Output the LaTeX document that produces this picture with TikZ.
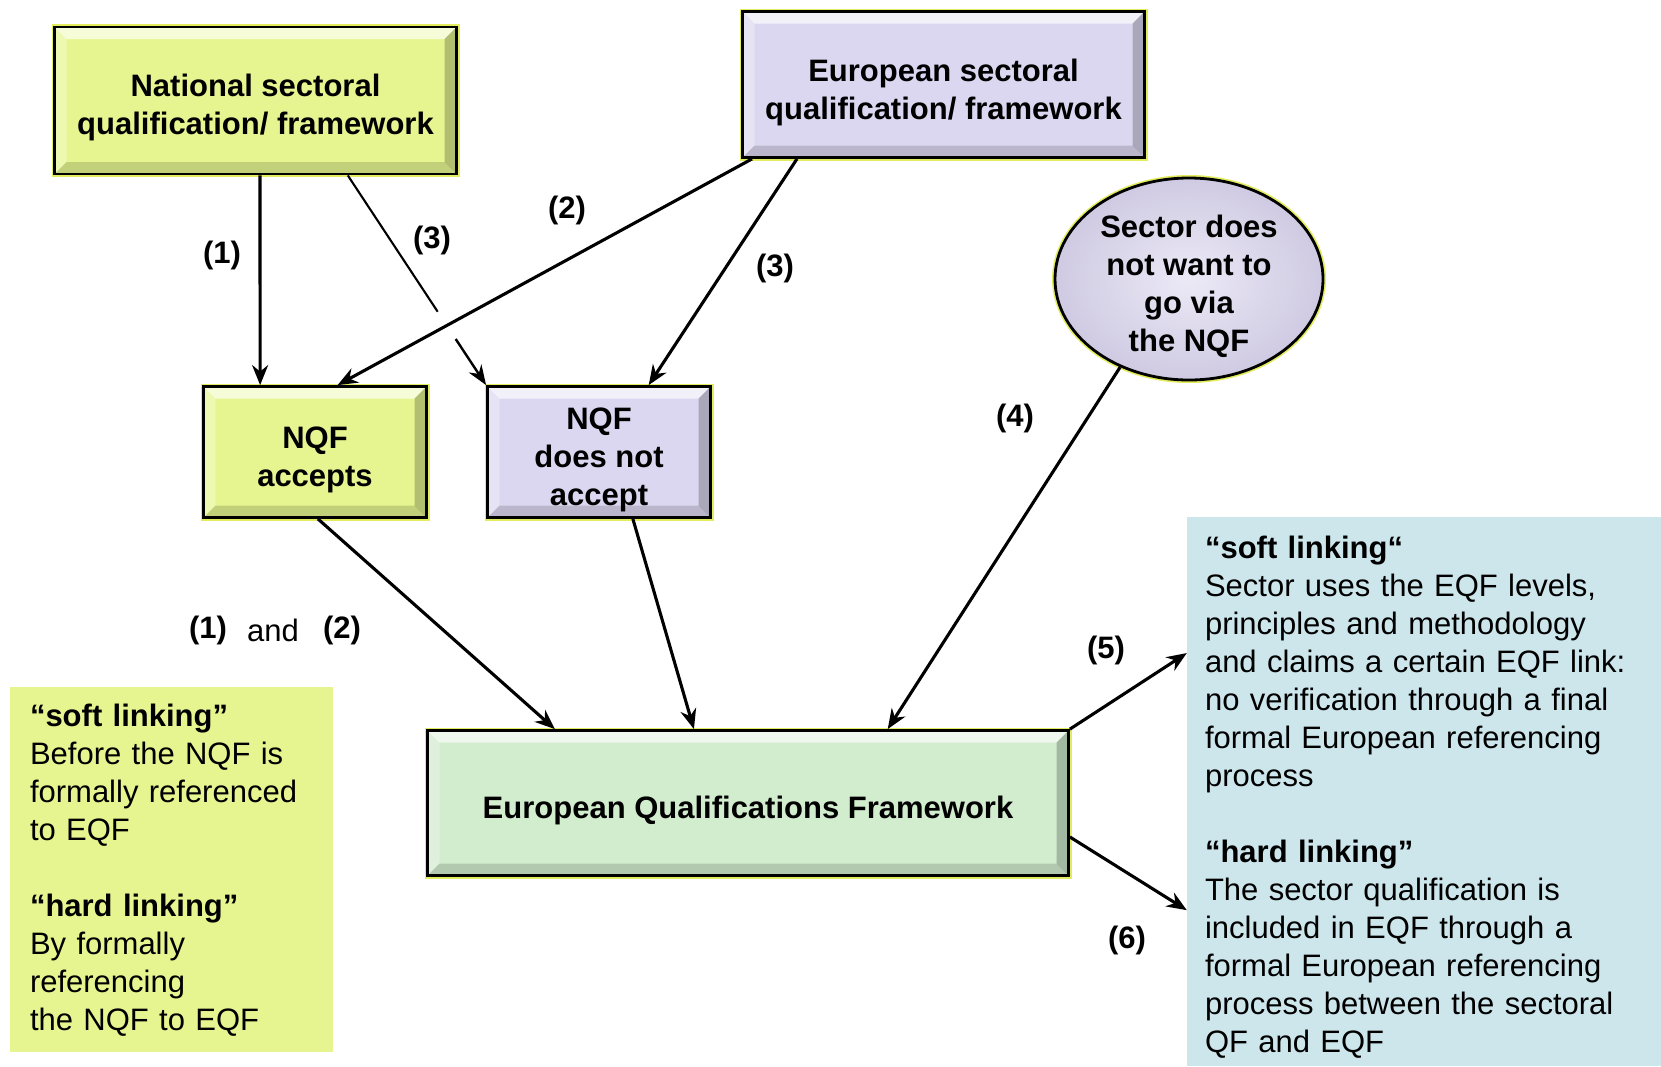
\documentclass[tikz,border=0pt]{standalone}
\usepackage{fontspec}
\setmainfont{Liberation Sans}
\usetikzlibrary{arrows.meta,shapes.geometric,calc}
\definecolor{ygreen}{HTML}{E6F590}
\definecolor{lav}{HTML}{DCD7F0}
\definecolor{eqfg}{HTML}{D2ECCE}
\definecolor{lblue}{HTML}{CCE6EC}
\definecolor{glow}{HTML}{E2EC5C}
\newcommand\lowc[2]{\raisebox{-#1}[\height][\depth]{\begin{tabular}{@{}c@{}}#2\end{tabular}}}
\newcommand\lowl[2]{\raisebox{-#1}[\height][\depth]{\begin{tabular}{@{}l@{}}#2\end{tabular}}}
\begin{document}
\begin{tikzpicture}[x=1pt,y=-1pt,
  font=\fontsize{31}{38}\selectfont,
  bevel/.style={path picture={
    \fill[white,opacity=.65] (path picture bounding box.north west) -- (path picture bounding box.north east)
      -- ([shift={(-12pt,-12pt)}]path picture bounding box.north east) -- ([shift={(12pt,-12pt)}]path picture bounding box.north west) -- cycle;
    \fill[white,opacity=.3] (path picture bounding box.north west) -- ([shift={(12pt,-12pt)}]path picture bounding box.north west)
      -- ([shift={(12pt,12pt)}]path picture bounding box.south west) -- (path picture bounding box.south west) -- cycle;
    \fill[black,opacity=.22] (path picture bounding box.north east) -- (path picture bounding box.south east)
      -- ([shift={(-12pt,12pt)}]path picture bounding box.south east) -- ([shift={(-12pt,-12pt)}]path picture bounding box.north east) -- cycle;
    \fill[black,opacity=.15] (path picture bounding box.south west) -- (path picture bounding box.south east)
      -- ([shift={(-12pt,12pt)}]path picture bounding box.south east) -- ([shift={(12pt,12pt)}]path picture bounding box.south west) -- cycle;
  }},
  qbox/.style={rectangle, draw=black, line width=2.8pt, preaction={draw=glow,line width=6pt},
    inner sep=0pt, font=\fontsize{31}{38}\selectfont\bfseries, bevel},
  txtbox/.style={rectangle, inner ysep=0pt, align=left, font=\fontsize{31}{38}\selectfont},
  arr/.style={line width=3.1pt, -{Stealth[length=20pt,width=16pt]}},
  lbl/.style={font=\fontsize{31}{38}\selectfont\bfseries},
]
\fill[white] (0,0) rectangle (1661,1066);
\useasboundingbox (0,0) rectangle (1661,1066);

% boxes
\node[qbox, fill=ygreen, minimum width=402pt, minimum height=147pt] (nat) at (255.5,100.5)
  {\lowc{7.5pt}{National sectoral\\qualification/ framework}};
\node[qbox, fill=lav, minimum width=402pt, minimum height=146pt] (eur) at (943.5,84.5)
  {\lowc{8pt}{European sectoral\\qualification/ framework}};
\node[qbox, fill=ygreen, minimum width=223pt, minimum height=131pt] (acc) at (315,452)
  {\lowc{8pt}{NQF\\accepts}};
\node[qbox, fill=lav, minimum width=223pt, minimum height=131pt] (notacc) at (599,452)
  {\lowc{7.5pt}{NQF\\does not\\accept}};
\node[ellipse, draw=black, line width=2.8pt, preaction={draw=glow,line width=6pt},
  inner color=lav!55!white, outer color=lav!94!black, inner xsep=0pt, inner ysep=-28pt,
  minimum width=268pt, minimum height=202pt, font=\fontsize{31}{38}\selectfont\bfseries] (ell) at (1189,279)
  {\lowc{7.5pt}{Sector does\\not want to\\go via\\the NQF}};
\node[qbox, fill=eqfg, minimum width=641pt, minimum height=145pt] (eqf) at (748,803)
  {\lowc{7.5pt}{European Qualifications Framework}};

% text boxes
\node[txtbox, fill=ygreen, minimum width=323pt, minimum height=365pt, inner xsep=20pt, text width=283pt] (lbox) at (171.5,869.5)
  {\lowl{1.5pt}{\textbf{“soft linking”}\\Before the NQF is\\formally referenced\\to EQF\\[38pt]\textbf{“hard linking”}\\By formally\\referencing\\the NQF to EQF}};
\node[txtbox, fill=lblue, minimum width=474pt, minimum height=549pt, inner xsep=18pt, text width=438pt] (rbox) at (1424,791.5)
  {\lowl{6.5pt}{\textbf{“soft linking“}\\Sector uses the EQF levels,\\principles and methodology\\and claims a certain EQF link:\\no verification through a final\\formal European referencing\\process\\[38pt]\textbf{“hard linking”}\\The sector qualification is\\included in EQF through a\\formal European referencing\\process between the sectoral\\QF and EQF}};

% connectors
\draw[arr] ($(nat.south west)!0.511!(nat.south east)$) -- ($(acc.north west)!0.257!(acc.north east)$);
\coordinate (s3) at ($(nat.south west)!0.728!(nat.south east)$);
\draw[line width=2.1pt] (s3) -- ($(s3)!0.65!(notacc.north west)$);
\draw[line width=2.4pt, -{Stealth[length=20pt,width=15pt]}] ($(s3)!0.78!(notacc.north west)$) -- (notacc.north west);
\draw[arr] ($(eur.south west)!0.027!(eur.south east)$) -- ($(acc.north west)!0.6!(acc.north east)$);
\draw[arr] ($(eur.south west)!0.138!(eur.south east)$) -- ($(notacc.north west)!0.72!(notacc.north east)$);
\draw[arr] (ell.232) -- ($(eqf.north west)!0.717!(eqf.north east)$);
\draw[arr] ($(acc.south west)!0.513!(acc.south east)$) -- ($(eqf.north west)!0.2!(eqf.north east)$);
\draw[arr] ($(notacc.south west)!0.65!(notacc.south east)$) -- ($(eqf.north west)!0.416!(eqf.north east)$);
\draw[arr] (eqf.north east) -- ($(rbox.north west)!0.248!(rbox.south west)$);
\draw[arr] ($(eqf.north east)!0.73!(eqf.south east)$) -- ($(rbox.north west)!0.716!(rbox.south west)$);

% labels
\node[lbl] (l1) at (222,255) {(1)};
\node[lbl] (l3a) at (432,240) {(3)};
\node[lbl] (l2) at (567,210) {(2)};
\node[lbl] (l3b) at (775,268) {(3)};
\node[lbl] (l4) at (1015,418) {(4)};
\node[lbl] (l12a) at (208,630) {(1)};
\node (land) at (273,630) {and};
\node[lbl] (l12b) at (342,630) {(2)};
\node[lbl] (l5) at (1106,650) {(5)};
\node[lbl] (l6) at (1127,940) {(6)};
\end{tikzpicture}
\end{document}
